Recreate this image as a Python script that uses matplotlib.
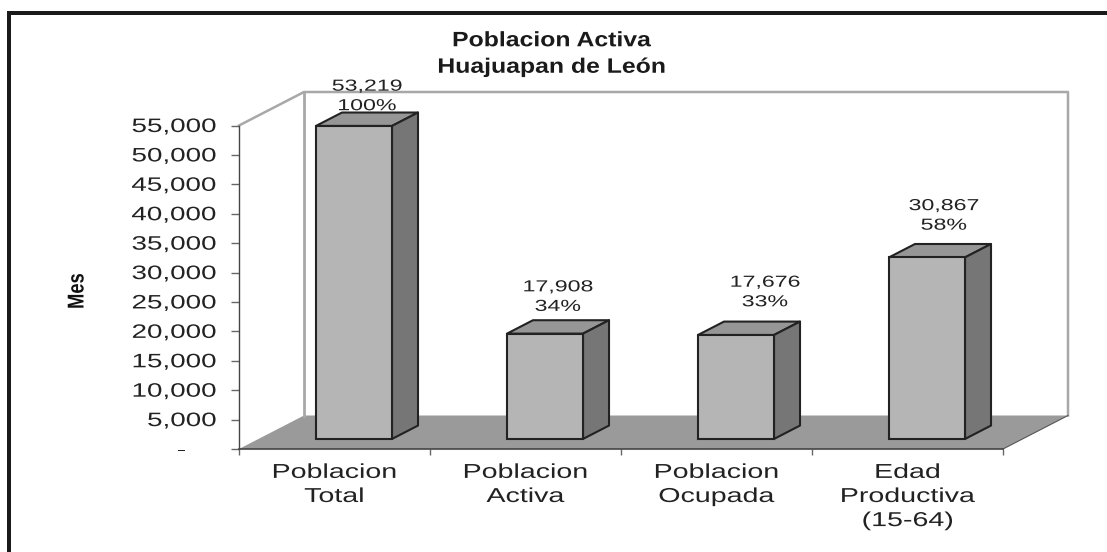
import matplotlib
matplotlib.use('Agg')
import matplotlib.pyplot as plt
import matplotlib.patheffects as pe
from matplotlib.patches import Polygon, Rectangle
from matplotlib.transforms import Affine2D

categories = ['Poblacion\nTotal', 'Poblacion\nActiva', 'Poblacion\nOcupada', 'Edad\nProductiva\n(15-64)']
values = [53219, 17908, 17676, 30867]
percents = ['100%', '34%', '33%', '58%']
y_ticks = [0, 5000, 10000, 15000, 20000, 25000, 30000, 35000, 40000, 45000, 50000, 55000]
y_labels = ['-    '] + ['{:,}'.format(v) for v in y_ticks[1:]]

W, H = 1107, 552
DX = 65 / 191.0     # depth of the 3d box, in category units
DY = 5695.0         # depth of the 3d box, in value units
GREY_WALL = '#a8a8a8'
EDGE = '#222222'


# the original text is stretched, keep it real text but scale the outline around its anchor
class Stretch(pe.AbstractPathEffect):
    def __init__(self, text, sx, sy=1.0):
        super().__init__()
        self.text = text
        self.sx = sx
        self.sy = sy

    def draw_path(self, renderer, gc, tpath, affine, rgbFace=None):
        cx, cy = self.text.get_transform().transform(self.text.get_position())
        t = affine + Affine2D().translate(-cx, -cy).scale(self.sx, self.sy).translate(cx, cy)
        renderer.draw_path(gc, tpath, t, rgbFace)


def stretch(text, sx, sy=1.0):
    text.set_path_effects([Stretch(text, sx, sy)])


plt.rcParams['font.family'] = ['Liberation Sans', 'DejaVu Sans']

fig = plt.figure(figsize=(W / 100, H / 100), dpi=100)
ax = fig.add_axes([239 / W, (H - 449) / H, 764 / W, 323.5 / H])
ax.patch.set_visible(False)
ax.set_xlim(0, 4)
ax.set_ylim(0, 55000)

# outer frame, only left and top are visible
fig.add_artist(Rectangle((7 / W, 0), 4 / W, (H - 11) / H, transform=fig.transFigure, color='#1a1a1a', lw=0))
fig.add_artist(Rectangle((7 / W, (H - 15) / H), (W - 7) / W, 4 / H, transform=fig.transFigure, color='#1a1a1a', lw=0))


def proj(x, v, d):
    return (x + d * DX, v + d * DY)


def add_face(points, color, edge='none', lw=0, z=1):
    ax.add_patch(Polygon(points, closed=True, facecolor=color, edgecolor=edge, linewidth=lw,
                         clip_on=False, zorder=z, joinstyle='round'))


# floor and walls
add_face([proj(0, 0, 0), proj(4, 0, 0), proj(4, 0, 1), proj(0, 0, 1)], '#9a9a9a', z=1)
wall_x = [0, DX, 4 + DX, 4 + DX]
wall_y = [55000, 55000 + DY, 55000 + DY, DY]
ax.plot(wall_x, wall_y, color=GREY_WALL, lw=1.8, clip_on=False, zorder=1)
ax.plot([DX, DX], [DY, 55000 + DY], color=GREY_WALL, lw=2, clip_on=False, zorder=1)
ax.plot([4, 4 + DX], [0, DY], color='#555555', lw=0.8, clip_on=False, zorder=1)

# bars
width = 0.398
start = 0.3
stop = 0.7
for i, v in enumerate(values):
    c = i + 0.5 + start * DX
    add_face([proj(i + 0.5 - width / 2, v, stop), proj(i + 0.5 + width / 2, v, stop),
              proj(i + 0.5 + width / 2, v, start), proj(i + 0.5 - width / 2, v, start)],
             '#969696', EDGE, 1.5, 3)
    add_face([proj(i + 0.5 + width / 2, 0, start), proj(i + 0.5 + width / 2, 0, stop),
              proj(i + 0.5 + width / 2, v, stop), proj(i + 0.5 + width / 2, v, start)],
             '#767676', EDGE, 1.5, 3)
    ax.bar(c, v, width=width, bottom=start * DY, color='#b5b5b5', edgecolor=EDGE, linewidth=1.5,
           clip_on=False, zorder=4)

# labels over the bars, they were moved by hand in the original
offsets = [(13, 30), (13, 37), (29, 43), (17, 42)]
for i, v in enumerate(values):
    c = i + 0.5 + start * DX
    t = ax.annotate('{:,}\n{}'.format(v, percents[i]), xy=(c, v + start * DY), xytext=offsets[i],
                    textcoords='offset pixels', ha='center', va='center', fontsize=11.5,
                    color='#222222', linespacing=1.38, annotation_clip=False, zorder=6)
    stretch(t, 1.45)

# axes
for s in ['top', 'right']:
    ax.spines[s].set_visible(False)
ax.spines['left'].set_color('#444444')
ax.spines['bottom'].set_color('#444444')
ax.spines['left'].set_linewidth(1.0)
ax.spines['bottom'].set_linewidth(1.2)
ax.spines['left'].set_zorder(2)
ax.spines['bottom'].set_zorder(2)

ax.set_yticks(y_ticks)
ax.set_yticklabels(y_labels)
ax.tick_params(axis='y', length=6, width=1, color='#666666', pad=10, labelsize=14, labelcolor='#222222')
for t in ax.get_yticklabels():
    stretch(t, 1.43)

ax.set_xticks(range(5))
ax.set_xticklabels([])
ax.set_xticks([i + 0.5 for i in range(4)], minor=True)
ax.set_xticklabels(categories, minor=True)
ax.tick_params(axis='x', which='major', length=4, width=1, color='#666666')
ax.tick_params(axis='x', which='minor', length=0, pad=10, labelsize=14.5, labelcolor='#222222')
for t in ax.get_xticklabels(minor=True):
    t.set_linespacing(1.34)
    stretch(t, 1.42)

ylab = ax.set_ylabel('Mes', fontsize=16.5, fontweight='bold', color='#111111')
ax.yaxis.set_label_coords(-0.197, 0.488)
stretch(ylab, 1.0, 0.8)

title = fig.text(552 / W, (H - 54) / H, 'Poblacion Activa\nHuajuapan de León', ha='center', va='center',
                 fontsize=15, fontweight='bold', color='#1a1a1a', linespacing=1.5)
stretch(title, 1.19)

plt.savefig('out.png', dpi=100)
